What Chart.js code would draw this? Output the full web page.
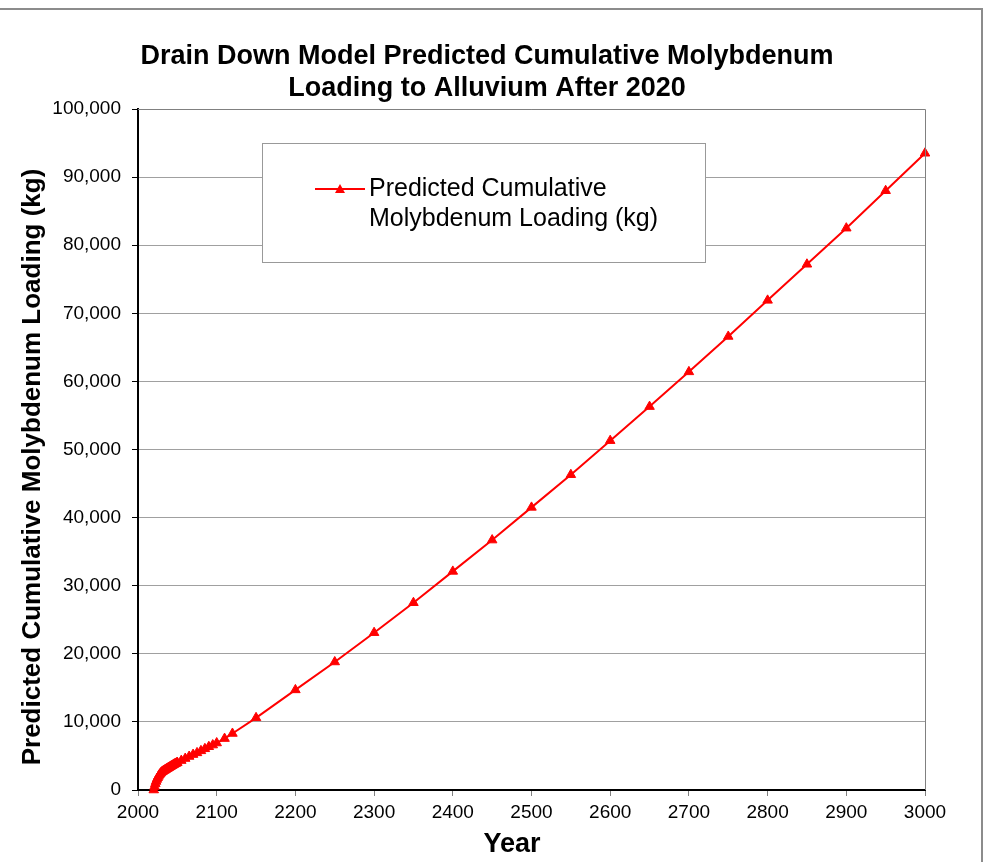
<!DOCTYPE html>
<html>
<head>
<meta charset="utf-8">
<title>Drain Down Model - Cumulative Molybdenum Loading</title>
<script src="https://cdn.jsdelivr.net/npm/chart.js@4.4.1/dist/chart.umd.min.js"></script>
<style>
    html, body { margin: 0; padding: 0; background: #fff; }
    #wrap { position: relative; width: 1004px; height: 862px; overflow: hidden; }
    #frame { position: absolute; left: -4px; top: 8px; width: 987px; height: 900px;
             border: 2px solid #8c8c8c; box-sizing: border-box; pointer-events: none; }
    #chart { position: absolute; left: 0; top: 0; }
</style>
</head>
<body>
<div id="wrap">
    <div id="frame"></div>
    <canvas id="chart" width="1004" height="862"></canvas>
</div>
<script>
// ---- data ----
const years = [
    2020, 2021, 2022, 2023, 2024, 2025, 2026, 2027, 2028, 2029,
    2030, 2031, 2032, 2033, 2034, 2035, 2036, 2037, 2038, 2039,
    2040, 2041, 2042, 2043, 2044, 2045, 2046, 2047, 2048, 2049, 2050,
    2055, 2060, 2065, 2070, 2075, 2080, 2085, 2090, 2095, 2100,
    2110, 2120, 2150,
    2200, 2250, 2300, 2350, 2400, 2450, 2500, 2550, 2600, 2650,
    2700, 2750, 2800, 2850, 2900, 2950, 3000
];
const loadingKg = [
    0, 500, 900, 1250, 1550, 1800, 2000, 2200, 2350, 2500,
    2620, 2700, 2780, 2850, 2920, 3000, 3070, 3140, 3210, 3280,
    3350, 3420, 3490, 3560, 3630, 3700, 3770, 3840, 3900, 3960, 4020,
    4320, 4620, 4920, 5200, 5450, 5750, 6050, 6350, 6600, 6900,
    7550, 8300, 10600,
    14700, 18800, 23100, 27500, 32100, 36700, 41500, 46300, 51300, 56300,
    61400, 66600, 71900, 77200, 82500, 88000, 93500
];
const yearTicks = [2000, 2100, 2200, 2300, 2400, 2500, 2600, 2700, 2800, 2900, 3000];
const loadTicks = [0, 10000, 20000, 30000, 40000, 50000, 60000, 70000, 80000, 90000, 100000];

const chartTitle = ['Drain Down Model Predicted Cumulative Molybdenum',
                    'Loading to Alluvium After 2020'];
const xTitle = 'Year';
const yTitle = 'Predicted Cumulative Molybdenum Loading (kg)';
const seriesName = ['Predicted Cumulative', 'Molybdenum Loading (kg)'];

const RED = '#ff0000';
const FONT = "'Liberation Sans', Arial, sans-serif";

// Titles, plot frame (top/right border) and the boxed legend
const decorPlugin = {
    id: 'decor',
    afterDraw(chart) {
        const { ctx, chartArea: a } = chart;
        ctx.save();

        // plot area outline on top and right
        ctx.strokeStyle = '#808080';
        ctx.lineWidth = 1;
        ctx.beginPath();
        ctx.moveTo(a.left, a.top + 0.5);
        ctx.lineTo(a.right + 0.5, a.top + 0.5);
        ctx.lineTo(a.right + 0.5, a.bottom);
        ctx.stroke();

        // chart title
        ctx.fillStyle = '#000';
        ctx.textAlign = 'center';
        ctx.textBaseline = 'middle';
        ctx.font = 'bold 27px ' + FONT;
        ctx.fillText(chartTitle[0], 487, 57);
        ctx.fillText(chartTitle[1], 487, 89);

        // axis titles
        ctx.font = 'bold 27px ' + FONT;
        ctx.fillText(xTitle, 512, 845);
        ctx.save();
        ctx.translate(33, 467);
        ctx.rotate(-Math.PI / 2);
        ctx.font = 'bold 26px ' + FONT;
        ctx.fillText(yTitle, 0, 0);
        ctx.restore();

        // legend box
        const bx = 262, by = 143, bw = 443, bh = 119;
        ctx.fillStyle = '#fff';
        ctx.fillRect(bx, by, bw, bh);
        ctx.strokeStyle = '#999';
        ctx.strokeRect(bx + 0.5, by + 0.5, bw, bh);

        const ly = 189;
        ctx.strokeStyle = RED;
        ctx.lineWidth = 2;
        ctx.beginPath();
        ctx.moveTo(315, ly);
        ctx.lineTo(365, ly);
        ctx.stroke();
        ctx.fillStyle = RED;
        ctx.beginPath();
        ctx.moveTo(340, ly - 5);
        ctx.lineTo(345, ly + 4);
        ctx.lineTo(335, ly + 4);
        ctx.closePath();
        ctx.fill();

        ctx.fillStyle = '#000';
        ctx.font = '25px ' + FONT;
        ctx.textAlign = 'left';
        ctx.fillText(seriesName[0], 369, ly);
        ctx.fillText(seriesName[1], 369, ly + 30);
        ctx.restore();
    }
};

new Chart(document.getElementById('chart'), {
    type: 'line',
    data: {
        datasets: [{
            label: seriesName.join(' '),
            data: years.map((yr, i) => ({ x: yr, y: loadingKg[i] })),
            borderColor: RED,
            backgroundColor: RED,
            borderWidth: 2,
            pointStyle: 'triangle',
            pointRadius: 5.5,
            pointBorderWidth: 1,
            tension: 0,
            clip: false
        }]
    },
    options: {
        responsive: false,
        animation: false,
        layout: { padding: { left: 0, right: 79, top: 109, bottom: 0 } },
        plugins: {
            legend: { display: false },
            tooltip: { enabled: false }
        },
        scales: {
            x: {
                type: 'linear',
                min: 2000,
                max: 3000,
                afterBuildTicks: s => { s.ticks = yearTicks.map(v => ({ value: v })); },
                afterFit: s => { s.height = 72; },
                ticks: {
                    color: '#000',
                    font: { family: FONT, size: 19 },
                    padding: 5,
                    maxRotation: 0,
                    callback: v => String(v)
                },
                grid: { drawOnChartArea: false, tickLength: 6, color: '#808080' },
                border: { color: '#000', width: 2 }
            },
            y: {
                min: 0,
                max: 100000,
                afterBuildTicks: s => { s.ticks = loadTicks.map(v => ({ value: v })); },
                afterFit: s => { s.width = 138; },
                ticks: {
                    color: '#000',
                    font: { family: FONT, size: 19 },
                    padding: 11,
                    callback: v => v.toLocaleString('en-US')
                },
                grid: { color: '#a0a0a0', tickColor: '#000', tickLength: 6 },
                border: { color: '#000', width: 2 }
            }
        }
    },
    plugins: [decorPlugin]
});
</script>
</body>
</html>
